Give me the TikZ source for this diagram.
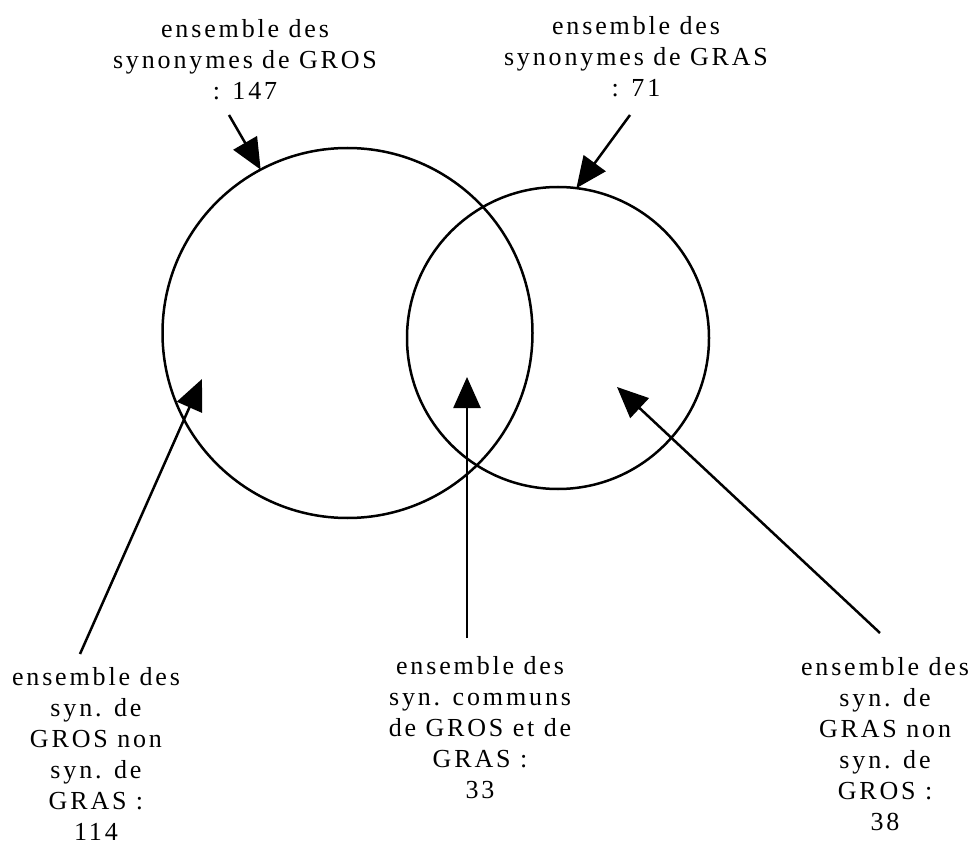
\documentclass[tikz,border=0pt]{standalone}
\usepackage{fontspec}
\setmainfont[LetterSpace=11]{Liberation Serif}
\usepackage{tikz}
\usetikzlibrary{arrows.meta}
\newcommand*\setline{2.5pt}
\tikzset{
    setcircle/.style = {draw, circle, line width=\setline,
                        inner sep=0pt, outer sep=0pt},
    setlabel/.style  = {align=center, inner sep=0pt, anchor=base,
                        font=\fontsize{26}{31}\selectfont},
    pointer/.style   = {line width=\setline,
                        -{Triangle[length=31pt,width=27pt]}},
  }
\begin{document}
\begin{tikzpicture}[x=1pt, y=-1pt]
    \useasboundingbox (0,0) rectangle (972,845);

    % the two sets
    \node[setcircle, minimum size=370pt] (GROS) at (347.5,333) {};
    \node[setcircle, minimum size=302pt] (GRAS) at (558,338) {};

    % labels above the circles (anchored on their last line)
    \node[setlabel] (lblGros) at (245,100)
        {ensemble des\\synonymes de GROS\\: 147};
    \node[setlabel] (lblGras) at (636,97)
        {ensemble des\\synonymes de GRAS\\: 71};

    % labels below the circles
    \node[setlabel] (lblGrosOnly) at (96,840)
        {ensemble des\\syn. de\\GROS non\\syn. de\\GRAS :\\114};
    \node[setlabel] (lblBoth) at (480,798)
        {ensemble des\\syn. communs\\de GROS et de\\GRAS :\\33};
    \node[setlabel] (lblGrasOnly) at (885,830)
        {ensemble des\\syn. de\\GRAS non\\syn. de\\GROS :\\38};

    % free ends of the pointers
    \coordinate (tGros)     at (229,115);
    \coordinate (tGras)     at (630,115);
    \coordinate (tGrosOnly) at (80,654);
    \coordinate (tBoth)     at (467,638);
    \coordinate (tGrasOnly) at (880,633);
    \coordinate (pGrosOnly) at (202,379);
    \coordinate (pBoth)     at (467,377);
    \coordinate (pGrasOnly) at (617,387);

    % pointers
    \draw[pointer] (tGros) -- (GROS.118);
    \draw[pointer] (tGras) -- (GRAS.83);
    \foreach \s in {GrosOnly,Both,GrasOnly} {
        \draw[pointer] (t\s) -- (p\s);
    }
\end{tikzpicture}
\end{document}
